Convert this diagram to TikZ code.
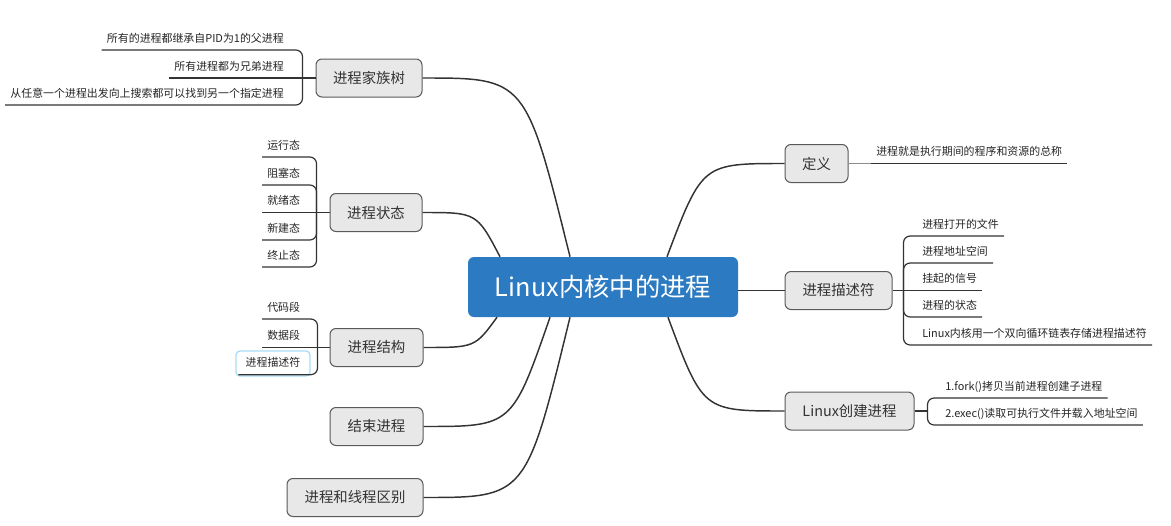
\documentclass[tikz,border=0pt]{standalone}
\usepackage{fontspec}
\setmainfont{Noto Sans CJK SC}
\usetikzlibrary{calc}
\definecolor{hubblue}{HTML}{2B7AC2}
\definecolor{topicfill}{HTML}{E8E8E8}
\definecolor{topicdraw}{HTML}{5A5A5A}
\definecolor{linec}{HTML}{333333}
\definecolor{selblue}{HTML}{A8DDF5}
\begin{document}
\begin{tikzpicture}[x=0.75pt,y=-0.75pt,
  central/.style={fill=hubblue, rounded corners=4.5pt, text=white, minimum width=202.5pt, minimum height=45pt, inner sep=0pt, font=\fontsize{19}{22}\selectfont},
  topic/.style={draw=topicdraw, fill=topicfill, rounded corners=4.5pt, line width=0.75pt, text=black!80, minimum height=28.5pt, inner sep=0pt, font=\fontsize{10.8}{13}\selectfont},
  leaf/.style={inner xsep=3.75pt, inner ysep=4pt, text height=6pt, text depth=1.5pt, text=black!85, font=\fontsize{8.2}{10}\selectfont},
  conn/.style={draw=linec, line width=1.1pt},
  leafline/.style={draw=linec, line width=0.9pt, rounded corners=5pt}
]
\useasboundingbox[fill=white] (0,0) rectangle (1171,525);

% central
\node[central] (c) at (603,287) {Linux内核中的进程};

% topics left
\node[topic, minimum width=79.5pt] (fam) at (369,78) {进程家族树};
\node[topic, minimum width=69pt] (st) at (376,212.5) {进程状态};
\node[topic, minimum width=69.75pt] (str) at (376.5,347.5) {进程结构};
\node[topic, minimum width=69.75pt] (end) at (376.5,426.5) {结束进程};
\node[topic, minimum width=102pt] (diff) at (355,497.5) {进程和线程区别};

% topics right
\node[topic, minimum width=47.25pt] (def) at (816.5,163.5) {定义};
\node[topic, minimum width=80.25pt] (desc) at (838.5,290.5) {进程描述符};
\node[topic, minimum width=96.75pt] (cre) at (849.5,411) {Linux创建进程};

% attachment points on central node
\coordinate (cFam) at ($(c.north)+(-33,0)$);
\coordinate (cSt) at ($(c.north)+(-103,0)$);
\coordinate (cStr) at ($(c.south)+(-106,0)$);
\coordinate (cEnd) at ($(c.south)+(-53,0)$);
\coordinate (cDiff) at ($(c.south)+(-33,0)$);
\coordinate (cDef) at ($(c.north)+(64,0)$);
\coordinate (cCre) at ($(c.south)+(65,0)$);

% main connectors
\draw[conn] (fam.east) .. controls ($(fam.east)!0.7!(cFam |- fam.east)$) .. (cFam);
\draw[conn] (st.east) .. controls ($(st.east)!0.7!(cSt |- st.east)$) .. (cSt);
\draw[conn] (str.east) .. controls ($(str.east)!0.7!(cStr |- str.east)$) .. (cStr);
\draw[conn] (end.east) .. controls ($(end.east)!0.7!(cEnd |- end.east)$) .. (cEnd);
\draw[conn] (diff.east) .. controls ($(diff.east)!0.7!(cDiff |- diff.east)$) .. (cDiff);
\draw[conn] (def.west) .. controls ($(def.west)!0.7!(cDef |- def.west)$) .. (cDef);
\draw[conn] (desc.west) -- (c.east |- desc.west);
\draw[conn] (cre.west) .. controls ($(cre.west)!0.7!(cCre |- cre.west)$) .. (cCre);

% family tree leaves
\coordinate (fh) at ($(fam.west)+(-13,0)$);
\draw[leafline] (fam.west) -- (fh);
\node[leaf, anchor=south east] (f1) at (289,50) {所有的进程都继承自PID为1的父进程};
\node[leaf, anchor=south east] (f2) at (289,78) {所有进程都为兄弟进程};
\node[leaf, anchor=south east] (f3) at (289,105) {从任意一个进程出发向上搜索都可以找到另一个指定进程};
\draw[leafline] (fh) |- (f1.south west);
\draw[leafline] (fh) -- (f2.south west);
\draw[leafline] (fh) |- (f3.south west);

% state leaves
\coordinate (sh) at ($(st.west)+(-13,0)$);
\draw[leafline] (st.west) -- (sh);
\node[leaf, anchor=south west] (s1) at (262,157) {运行态};
\node[leaf, anchor=south west] (s2) at (262,185) {阻塞态};
\node[leaf, anchor=south west] (s3) at (262,212.5) {就绪态};
\node[leaf, anchor=south west] (s4) at (262,240) {新建态};
\node[leaf, anchor=south west] (s5) at (262,267) {终止态};
\draw[leafline] (sh) |- (s1.south west);
\draw[leafline] (sh) |- (s2.south west);
\draw[leafline] (sh) -- (s3.south west);
\draw[leafline] (sh) |- (s4.south west);
\draw[leafline] (sh) |- (s5.south west);

% structure leaves
\coordinate (xh) at ($(str.west)+(-12,0)$);
\draw[leafline] (str.west) -- (xh);
\node[leaf, anchor=south west] (x1) at (262,319) {代码段};
\node[leaf, anchor=south west] (x2) at (262,347.5) {数据段};
\node[leaf, draw=selblue, line width=1pt, rounded corners=3pt, minimum width=55.5pt, minimum height=18.75pt, inner ysep=2pt] (x3) at (273,363.5) {进程描述符};
\draw[leafline] (xh) |- (x1.south west);
\draw[leafline] (xh) -- (x2.south west);
\draw[leafline] (xh) |- ($(x3.south west)+(3,-2)$);

% definition leaf
\node[leaf, anchor=south west] (d0) at (871,163.5) {进程就是执行期间的程序和资源的总称};
\draw[leafline, draw=black!45] (def.east) -- (d0.south west);
\draw[leafline] (d0.south west) -- (d0.south east);

% descriptor leaves
\coordinate (dh) at ($(desc.east)+(11,0)$);
\draw[leafline] (desc.east) -- (dh);
\node[leaf, anchor=south west] (p1) at (917,236) {进程打开的文件};
\node[leaf, anchor=south west] (p2) at (917,263) {进程地址空间};
\node[leaf, anchor=south west] (p3) at (917,290.5) {挂起的信号};
\node[leaf, anchor=south west] (p4) at (917,317) {进程的状态};
\node[leaf, anchor=south west] (p5) at (917,345) {Linux内核用一个双向循环链表存储进程描述符};
\draw[leafline] (dh) |- (p1.south east);
\draw[leafline] (dh) |- (p2.south east);
\draw[leafline] (dh) -- (p3.south east);
\draw[leafline] (dh) |- (p4.south east);
\draw[leafline] (dh) |- (p5.south east);

% create leaves
\coordinate (ch) at ($(cre.east)+(13,0)$);
\draw[leafline] (cre.east) -- (ch);
\node[leaf, anchor=south west] (k1) at (940,398) {1.fork()拷贝当前进程创建子进程};
\node[leaf, anchor=south west] (k2) at (940,425) {2.exec()读取可执行文件并载入地址空间};
\draw[leafline] (ch) |- (k1.south east);
\draw[leafline] (ch) |- (k2.south east);
\end{tikzpicture}
\end{document}
